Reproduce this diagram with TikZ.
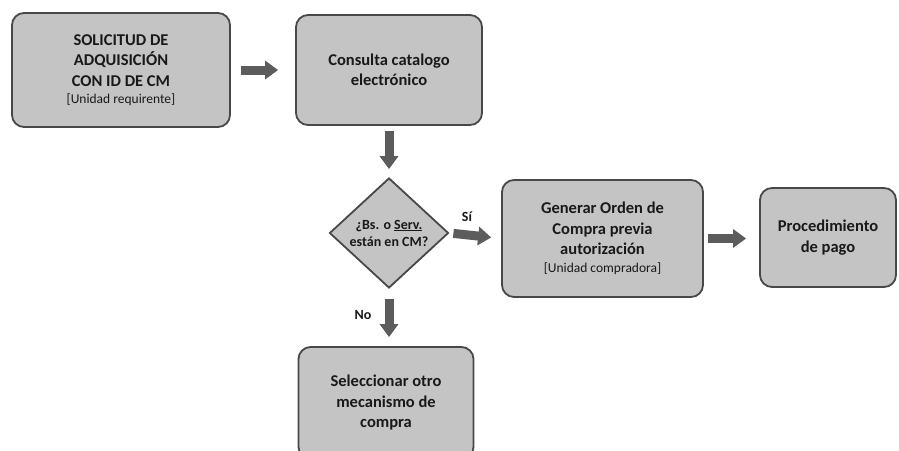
\documentclass[tikz,border=0pt]{standalone}
\usepackage{fontspec}
\setmainfont{Carlito}
\usetikzlibrary{shapes.geometric,arrows.meta,positioning}
\definecolor{cajagris}{RGB}{196,196,196}
\definecolor{bordegris}{RGB}{72,72,72}
\definecolor{flechagris}{RGB}{92,92,92}
\definecolor{textogris}{RGB}{25,25,25}
\tikzset{
procbox/.style={
  rectangle,
  rounded corners=12pt,
  draw=bordegris,
  line width=1.8pt,
  fill=cajagris,
  text=textogris,
  align=center,
  inner sep=2pt,
  font=\bfseries\fontsize{16.5}{20.5}\selectfont
  },
decision/.style={
  diamond,
  draw=bordegris,
  line width=1.8pt,
  fill=cajagris,
  text=textogris,
  align=center,
  inner sep=0pt,
  font=\bfseries\fontsize{14}{17}\selectfont
  },
flecha/.style={
  draw=flechagris,
  line width=9pt,
  -{Triangle[length=13pt,width=18pt]}
  },
rotulo/.style={
  text=textogris,
  font=\bfseries\fontsize{14}{16}\selectfont
  }
}
\newcommand{\unidad}[1]{\\[-3pt]{\mdseries\fontsize{13.5}{16}\selectfont[#1]}}

\begin{document}
\begin{tikzpicture}[x=1pt,y=-1pt]
\clip (0,0) rectangle (899,450);
\fill[white] (0,0) rectangle (899,450);

% fila superior
\node[procbox,minimum width=218pt,minimum height=114pt] (sol) at (121,70)
  {SOLICITUD DE\\ADQUISICIÓN\\CON ID DE CM\unidad{Unidad requirente}};
\node[procbox,minimum width=186pt,minimum height=110pt] (cat) at (389,70)
  {Consulta catalogo\\electrónico};

% decision
\node[decision,minimum width=119pt,minimum height=110pt] (dec) at (389,233)
  {¿Bs. o \underline{Serv.}\\están en CM?};

% fila media
\node[procbox,minimum width=201pt,minimum height=117pt] (orden) at (602.5,238.5)
  {Generar Orden de\\Compra previa\\autorización\unidad{Unidad compradora}};
\node[procbox,minimum width=136pt,minimum height=99pt] (pago) at (828,237.5)
  {Procedimiento\\de pago};

% abajo
\node[procbox,minimum width=175pt,minimum height=112pt] (otro) at (386,403)
  {Seleccionar otro\\mecanismo de\\compra};

% conectores
\draw[flecha,shorten <=10pt,shorten >=17pt] (sol.east) -- (cat.west);
\draw[flecha,shorten <=5pt,shorten >=8pt] (cat.south) -- (dec.north);
\draw[flecha,shorten <=4pt,shorten >=10pt] (dec.east) -- (orden.west);
\draw[flecha,shorten <=4pt,shorten >=13pt] (orden.east) -- (orden.east -| pago.west);
\draw[flecha,shorten <=10pt,shorten >=9pt] (dec.south) -- (dec.south |- otro.north);

% etiquetas
\node[rotulo] (si) at (467,217) {Sí};
\node[rotulo] (no) at (363,315) {No};
\end{tikzpicture}
\end{document}
